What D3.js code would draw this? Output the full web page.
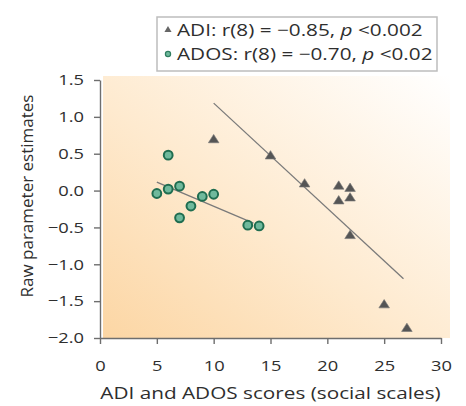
<!DOCTYPE html>
<html>
    <head>
        <meta charset="utf-8">
        <title>ADI / ADOS scatter</title>
        <script type="text/javascript" src="https://d3js.org/d3.v7.min.js"></script>
        <style>
            body { margin: 0; background: #fff; }
            svg text { font-family: "Open Sans", sans-serif; fill: #2e2e2e; }
        </style>
    </head>
    <body>
        <div class="div_d3"></div>

        <script type="text/javascript">
            // values
            var adiScores = [10, 15, 18, 21, 22, 21, 22, 22, 25, 27];
            var adiEstimates = [0.70, 0.48, 0.10, 0.07, 0.04, -0.13, -0.09, -0.60, -1.54, -1.86];
            var adosScores = [6, 5, 6, 7, 9, 10, 8, 7, 13, 14];
            var adosEstimates = [0.48, -0.04, 0.02, 0.06, -0.08, -0.05, -0.21, -0.37, -0.47, -0.48];
            var adiFitRange = [10, 26.7];
            var adosFitRange = [5, 13.5];
            var xTicks = [0, 5, 10, 15, 20, 25, 30];
            var yTicks = [1.5, 1.0, 0.5, 0.0, -0.5, -1.0, -1.5, -2.0];
            var legendLabels = [
                ['ADI: r(8) = \u22120.85, ', 'p', ' <0.002'],
                ['ADOS: r(8) = \u22120.70, ', 'p', ' <0.02']
            ];

            let width = 466;
            let height = 406;
            let margin = { top: 80, right: 25, bottom: 68, left: 100 };
            let stretch = 1.22;   // the original type is set a little wide

            let svg = d3.select('.div_d3')
                .append('svg')
                    .attr('width', width)
                    .attr('height', height);

            let x = d3.scaleLinear().domain([0, 30]).range([margin.left, width - margin.right]);
            let y = d3.scaleLinear().domain([-2, 1.5]).range([height - margin.bottom, margin.top]);

            // background wash
            let grad = svg.append('defs').append('linearGradient')
                .attr('id', 'wash')
                .attr('x1', 0).attr('y1', 1).attr('x2', 1).attr('y2', 0);
            grad.append('stop').attr('offset', 0).attr('stop-color', '#fcd6a4');
            grad.append('stop').attr('offset', 0.45).attr('stop-color', '#feeacf');
            grad.append('stop').attr('offset', 1).attr('stop-color', '#ffffff');

            svg.append('rect')
                .attr('x', x(0) + 3)
                .attr('y', y(1.5) - 4)
                .attr('width', x(30) - x(0) + 6)
                .attr('height', y(-2) - y(1.5) + 4)
                .attr('fill', 'url(#wash)');

            // axes
            let xAxis = svg.append('g')
                .attr('transform', `translate(0, ${y(-2)})`)
                .call(d3.axisBottom(x).tickValues(xTicks).tickSize(6).tickSizeOuter(0).tickPadding(16));
            let yAxis = svg.append('g')
                .attr('transform', `translate(${x(0)}, 0)`)
                .call(d3.axisLeft(y).tickValues(yTicks).tickSize(6).tickSizeOuter(0)
                    .tickFormat(d => d3.format('.1f')(d).replace('-', '\u2212')));

            [xAxis, yAxis].forEach(a => {
                a.selectAll('path, line').attr('stroke', '#6e6e6e').attr('stroke-width', 1.4);
                a.selectAll('text').style('font-size', '15px').attr('fill', '#2e2e2e');
            });
            xAxis.selectAll('text').attr('transform', `scale(${stretch}, 1)`);
            yAxis.selectAll('text').attr('x', 0).attr('transform', `translate(-16, 0) scale(${stretch}, 1)`);

            svg.append('text')
                .attr('transform', `translate(${(x(0) + x(30)) / 2}, 399) scale(${stretch}, 1)`)
                .attr('text-anchor', 'middle')
                .style('font-size', '17px')
                .text('ADI and ADOS scores (social scales)');

            svg.append('text')
                .attr('transform', `translate(33, ${(y(1.5) + y(-2)) / 2 - 13}) rotate(-90)`)
                .attr('text-anchor', 'middle')
                .style('font-size', '17px')
                .text('Raw parameter estimates');

            // regression lines, fitted from the points
            function fit(xs, ys) {
                let mx = d3.mean(xs), my = d3.mean(ys);
                let sxy = d3.sum(xs, (v, i) => (v - mx) * (ys[i] - my));
                let sxx = d3.sum(xs, v => (v - mx) * (v - mx));
                let b = sxy / sxx;
                return v => my + b * (v - mx);
            }
            let line = d3.line().x(d => x(d[0])).y(d => y(d[1]));
            [[adiScores, adiEstimates, adiFitRange], [adosScores, adosEstimates, adosFitRange]].forEach(s => {
                let f = fit(s[0], s[1]);
                svg.append('path')
                    .attr('d', line(s[2].map(v => [v, f(v)])))
                    .attr('fill', 'none')
                    .attr('stroke', '#7a7a7a')
                    .attr('stroke-width', 1.3);
            });

            let tri = d3.symbol().type(d3.symbolTriangle).size(40);

            svg.selectAll('.adi')
                .data(adiScores)
                .enter()
                .append('path')
                    .attr('class', 'adi')
                    .attr('d', tri)
                    .attr('transform', (d, i) => `translate(${x(d)}, ${y(adiEstimates[i]) + 1}) scale(1.1, 1)`)
                    .attr('fill', '#555')
                    .attr('stroke', '#777')
                    .attr('stroke-width', 0.6);

            svg.selectAll('.ados')
                .data(adosScores)
                .enter()
                .append('circle')
                    .attr('class', 'ados')
                    .attr('cx', d => x(d))
                    .attr('cy', (d, i) => y(adosEstimates[i]))
                    .attr('r', 4.4)
                    .attr('fill', '#6fb99c')
                    .attr('stroke', '#1f6d50')
                    .attr('stroke-width', 2);

            // legend
            let legend = svg.append('g');
            legend.append('rect')
                .attr('x', 157).attr('y', 17)
                .attr('width', 280).attr('height', 54)
                .attr('fill', '#fff')
                .attr('stroke', '#bdbdbd')
                .attr('stroke-width', 1.5);

            legend.append('path')
                .attr('d', d3.symbol().type(d3.symbolTriangle).size(22))
                .attr('transform', 'translate(168, 30)')
                .attr('fill', '#666');
            legend.append('circle')
                .attr('cx', 168).attr('cy', 54).attr('r', 2.6)
                .attr('fill', '#6fb99c').attr('stroke', '#2f7d60').attr('stroke-width', 1.2);

            legendLabels.forEach((parts, i) => {
                let t = legend.append('text')
                    .attr('transform', `translate(177, ${36 + i * 24}) scale(${stretch}, 1)`)
                    .style('font-size', '17px');
                t.append('tspan').text(parts[0]);
                t.append('tspan').style('font-style', 'italic').text(parts[1]);
                t.append('tspan').text(parts[2]);
            });
        </script>
    </body>
</html>
